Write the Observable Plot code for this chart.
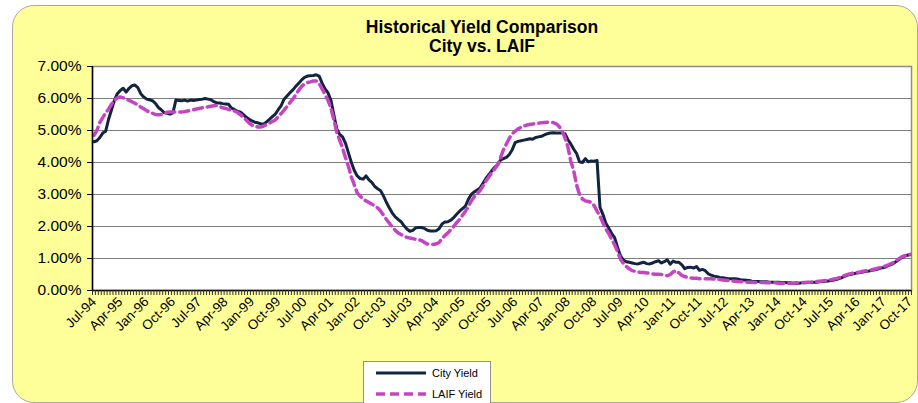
<!DOCTYPE html>
<html>
<head>
<meta charset="utf-8">
<script src="https://cdn.jsdelivr.net/npm/d3@7"></script>
<script src="https://cdn.jsdelivr.net/npm/@observablehq/plot@0.6"></script>
<style>
  html, body { margin: 0; padding: 0; background: #ffffff; }
  #wrap { position: relative; width: 918px; height: 403px; overflow: hidden; font-family: "Liberation Sans", Arial, sans-serif; }
  #panel { position: absolute; left: 12px; top: 5px; width: 904px; height: 396px; background: #FFFF99; border: 1px solid #a8a8a0; border-radius: 22px; }
  .title { position: absolute; left: 0; width: 964px; text-align: center; font-weight: bold; font-size: 17.5px; color: #000; }
  #legend { position: absolute; left: 363px; top: 361px; width: 126px; height: 60px; background: #fff; border: 1px solid #909090; }
  #legend .row { position: absolute; left: 11px; height: 14px; font-size: 11px; color: #000; display: flex; align-items: center; }
  #legend svg { margin-right: 5px; }
  #chart { position: absolute; left: 0; top: 0; }
</style>
</head>
<body>
<div id="wrap">
  <div id="panel"></div>
  <div class="title" style="top:17px;">Historical Yield Comparison</div>
  <div class="title" style="top:36px;">City vs. LAIF</div>
  <div id="chart"></div>
  <div id="legend">
    <div class="row" style="top:4px;"><svg width="52" height="8"><line x1="1" y1="4" x2="51" y2="4" stroke="#13243f" stroke-width="3"/></svg>City Yield</div>
    <div class="row" style="top:25px;"><svg width="52" height="8"><line x1="1" y1="4" x2="51" y2="4" stroke="#c444c4" stroke-width="3.5" stroke-dasharray="9,5"/></svg>LAIF Yield</div>
  </div>
</div>
<script>
// First month of the monthly series: Jul-1994; last: Oct-2017 (280 months)
const tickLabels = ["Jul-94","Apr-95","Jan-96","Oct-96","Jul-97","Apr-98","Jan-99","Oct-99","Jul-00","Apr-01","Jan-02","Oct-03","Jul-03","Apr-04","Jan-05","Oct-05","Jul-06","Apr-07","Jan-08","Oct-08","Jul-09","Apr-10","Jan-11","Oct-11","Jul-12","Apr-13","Jan-14","Oct-14","Jul-15","Apr-16","Jan-17","Oct-17"];
const tickEvery = 9; // months between labelled categories

const cityYield = [
4.65,4.68,4.78,4.92,4.98,5.35,5.65,5.95,6.15,6.25,6.32,6.20,
6.32,6.40,6.42,6.34,6.15,6.05,5.98,5.96,5.93,5.85,5.72,5.65,
5.56,5.54,5.51,5.55,5.95,5.94,5.93,5.95,5.92,5.95,5.94,5.95,
5.97,5.98,6.00,5.98,5.96,5.90,5.86,5.86,5.84,5.83,5.82,5.70,
5.66,5.60,5.58,5.50,5.42,5.35,5.30,5.26,5.24,5.21,5.20,5.27,
5.35,5.43,5.51,5.65,5.78,5.98,6.08,6.18,6.27,6.38,6.48,6.58,
6.66,6.70,6.71,6.72,6.74,6.70,6.48,6.30,6.18,5.95,5.50,5.05,
4.88,4.80,4.60,4.30,4.00,3.75,3.58,3.50,3.48,3.58,3.46,3.38,
3.25,3.18,3.12,2.95,2.75,2.58,2.42,2.30,2.22,2.15,2.02,1.92,
1.85,1.88,1.96,1.97,1.97,1.94,1.88,1.86,1.86,1.87,1.93,2.08,
2.14,2.15,2.20,2.28,2.38,2.48,2.56,2.64,2.85,3.00,3.08,3.14,
3.20,3.35,3.50,3.62,3.74,3.85,3.93,4.08,4.12,4.16,4.25,4.40,
4.62,4.66,4.68,4.70,4.72,4.74,4.73,4.78,4.80,4.82,4.86,4.90,
4.92,4.93,4.92,4.92,4.92,4.90,4.72,4.58,4.42,4.28,4.02,4.00,
4.12,4.02,4.05,4.04,4.06,2.60,2.38,2.10,1.95,1.78,1.65,1.35,
1.08,0.95,0.90,0.88,0.86,0.84,0.83,0.86,0.88,0.84,0.83,0.86,
0.90,0.93,0.86,0.90,0.96,0.82,0.92,0.88,0.88,0.80,0.68,0.72,
0.73,0.70,0.75,0.63,0.66,0.62,0.52,0.48,0.45,0.43,0.41,0.40,
0.38,0.37,0.37,0.37,0.36,0.34,0.33,0.32,0.31,0.29,0.28,0.28,
0.27,0.27,0.27,0.26,0.26,0.26,0.26,0.25,0.25,0.24,0.24,0.23,
0.23,0.23,0.24,0.24,0.25,0.25,0.26,0.26,0.27,0.28,0.29,0.30,
0.31,0.33,0.35,0.38,0.42,0.46,0.49,0.51,0.53,0.55,0.56,0.58,
0.60,0.61,0.63,0.65,0.67,0.70,0.72,0.75,0.79,0.83,0.89,0.95,
1.02,1.07,1.10,1.12
];

const laifYield = [
4.85,5.00,5.25,5.40,5.55,5.67,5.82,5.95,6.02,6.05,6.02,5.98,
5.94,5.90,5.85,5.80,5.73,5.68,5.62,5.57,5.54,5.50,5.49,5.50,
5.53,5.57,5.58,5.58,5.58,5.58,5.58,5.59,5.61,5.63,5.65,5.67,
5.69,5.71,5.73,5.74,5.76,5.77,5.77,5.75,5.71,5.69,5.66,5.63,
5.61,5.57,5.50,5.42,5.33,5.24,5.17,5.13,5.11,5.11,5.14,5.18,
5.23,5.28,5.33,5.43,5.53,5.64,5.75,5.87,5.98,6.12,6.26,6.38,
6.46,6.50,6.52,6.55,6.55,6.47,6.30,6.12,5.95,5.70,5.35,4.95,
4.70,4.45,4.15,3.88,3.55,3.30,3.05,2.95,2.86,2.80,2.75,2.70,
2.64,2.58,2.48,2.35,2.22,2.10,1.98,1.88,1.80,1.75,1.70,1.66,
1.64,1.62,1.60,1.59,1.56,1.50,1.45,1.45,1.44,1.46,1.50,1.62,
1.72,1.80,1.90,2.00,2.12,2.22,2.35,2.48,2.62,2.80,2.93,3.03,
3.12,3.27,3.42,3.55,3.68,3.80,3.92,4.15,4.40,4.58,4.76,4.90,
4.98,5.05,5.10,5.14,5.17,5.19,5.20,5.22,5.23,5.24,5.25,5.26,
5.26,5.25,5.21,5.13,5.00,4.78,4.50,4.05,3.75,3.30,3.00,2.86,
2.80,2.78,2.76,2.65,2.48,2.32,2.12,1.92,1.78,1.60,1.43,1.22,
0.98,0.85,0.75,0.68,0.62,0.60,0.58,0.56,0.56,0.55,0.54,0.52,
0.51,0.51,0.50,0.48,0.46,0.50,0.58,0.62,0.55,0.47,0.43,0.41,
0.39,0.38,0.38,0.37,0.37,0.37,0.37,0.37,0.36,0.35,0.34,0.33,
0.32,0.31,0.30,0.29,0.28,0.27,0.27,0.26,0.26,0.26,0.25,0.25,
0.25,0.25,0.24,0.24,0.24,0.24,0.23,0.23,0.23,0.23,0.23,0.23,
0.24,0.24,0.25,0.25,0.26,0.26,0.27,0.28,0.29,0.30,0.31,0.32,
0.34,0.36,0.38,0.41,0.45,0.48,0.51,0.53,0.55,0.57,0.58,0.60,
0.62,0.63,0.65,0.67,0.70,0.72,0.75,0.78,0.82,0.86,0.92,0.98,
1.04,1.08,1.11,1.13
];

const yTicks = [0,1,2,3,4,5,6,7];

const n = cityYield.length;
const city = cityYield.map((v, i) => ({i, v}));
const laif = laifYield.map((v, i) => ({i, v}));
const labelPos = tickLabels.map((_, k) => k * tickEvery);
const labelMap = new Map(labelPos.map((p, k) => [p, tickLabels[k]]));
const boundaries = d3.range(n + 1).map(i => i - 0.5);
const grid = yTicks.filter(t => t > 0 && t < 7);

const chart = Plot.plot({
  width: 918,
  height: 403,
  marginLeft: 92,
  marginRight: 7,
  marginTop: 66,
  marginBottom: 113,
  style: {background: "transparent", fontFamily: "'Liberation Sans', Arial, sans-serif", color: "#000", overflow: "visible"},
  x: {type: "linear", domain: [-0.5, n - 0.5]},
  y: {domain: [0, 7]},
  marks: [
    Plot.frame({fill: "white", stroke: "#8c8c8c", strokeWidth: 1.5}),
    Plot.ruleY(grid, {stroke: "#7f7f7f", strokeWidth: 1}),
    Plot.line(city, {x: "i", y: "v", stroke: "#13243f", strokeWidth: 3, strokeLinejoin: "round"}),
    Plot.line(laif, {x: "i", y: "v", stroke: "#c444c4", strokeWidth: 3.5, strokeDasharray: "9,5"}),
    Plot.ruleX([-0.5], {stroke: "#000", strokeWidth: 1.5}),
    Plot.ruleY([0], {stroke: "#000", strokeWidth: 1.5}),
    Plot.axisY({ticks: yTicks, tickFormat: d => d.toFixed(2) + "%", tickSize: 5, tickPadding: 6, fontSize: 15.5, label: null}),
    Plot.axisX({ticks: boundaries, tickFormat: () => "", tickSize: 5, label: null, stroke: "#333"}),
    Plot.axisX({ticks: labelPos, tickFormat: d => labelMap.get(d), tickSize: 0, tickPadding: 9, tickRotate: -45, fontSize: 13.5, label: null})
  ]
});
document.getElementById("chart").appendChild(chart);
</script>
</body>
</html>
